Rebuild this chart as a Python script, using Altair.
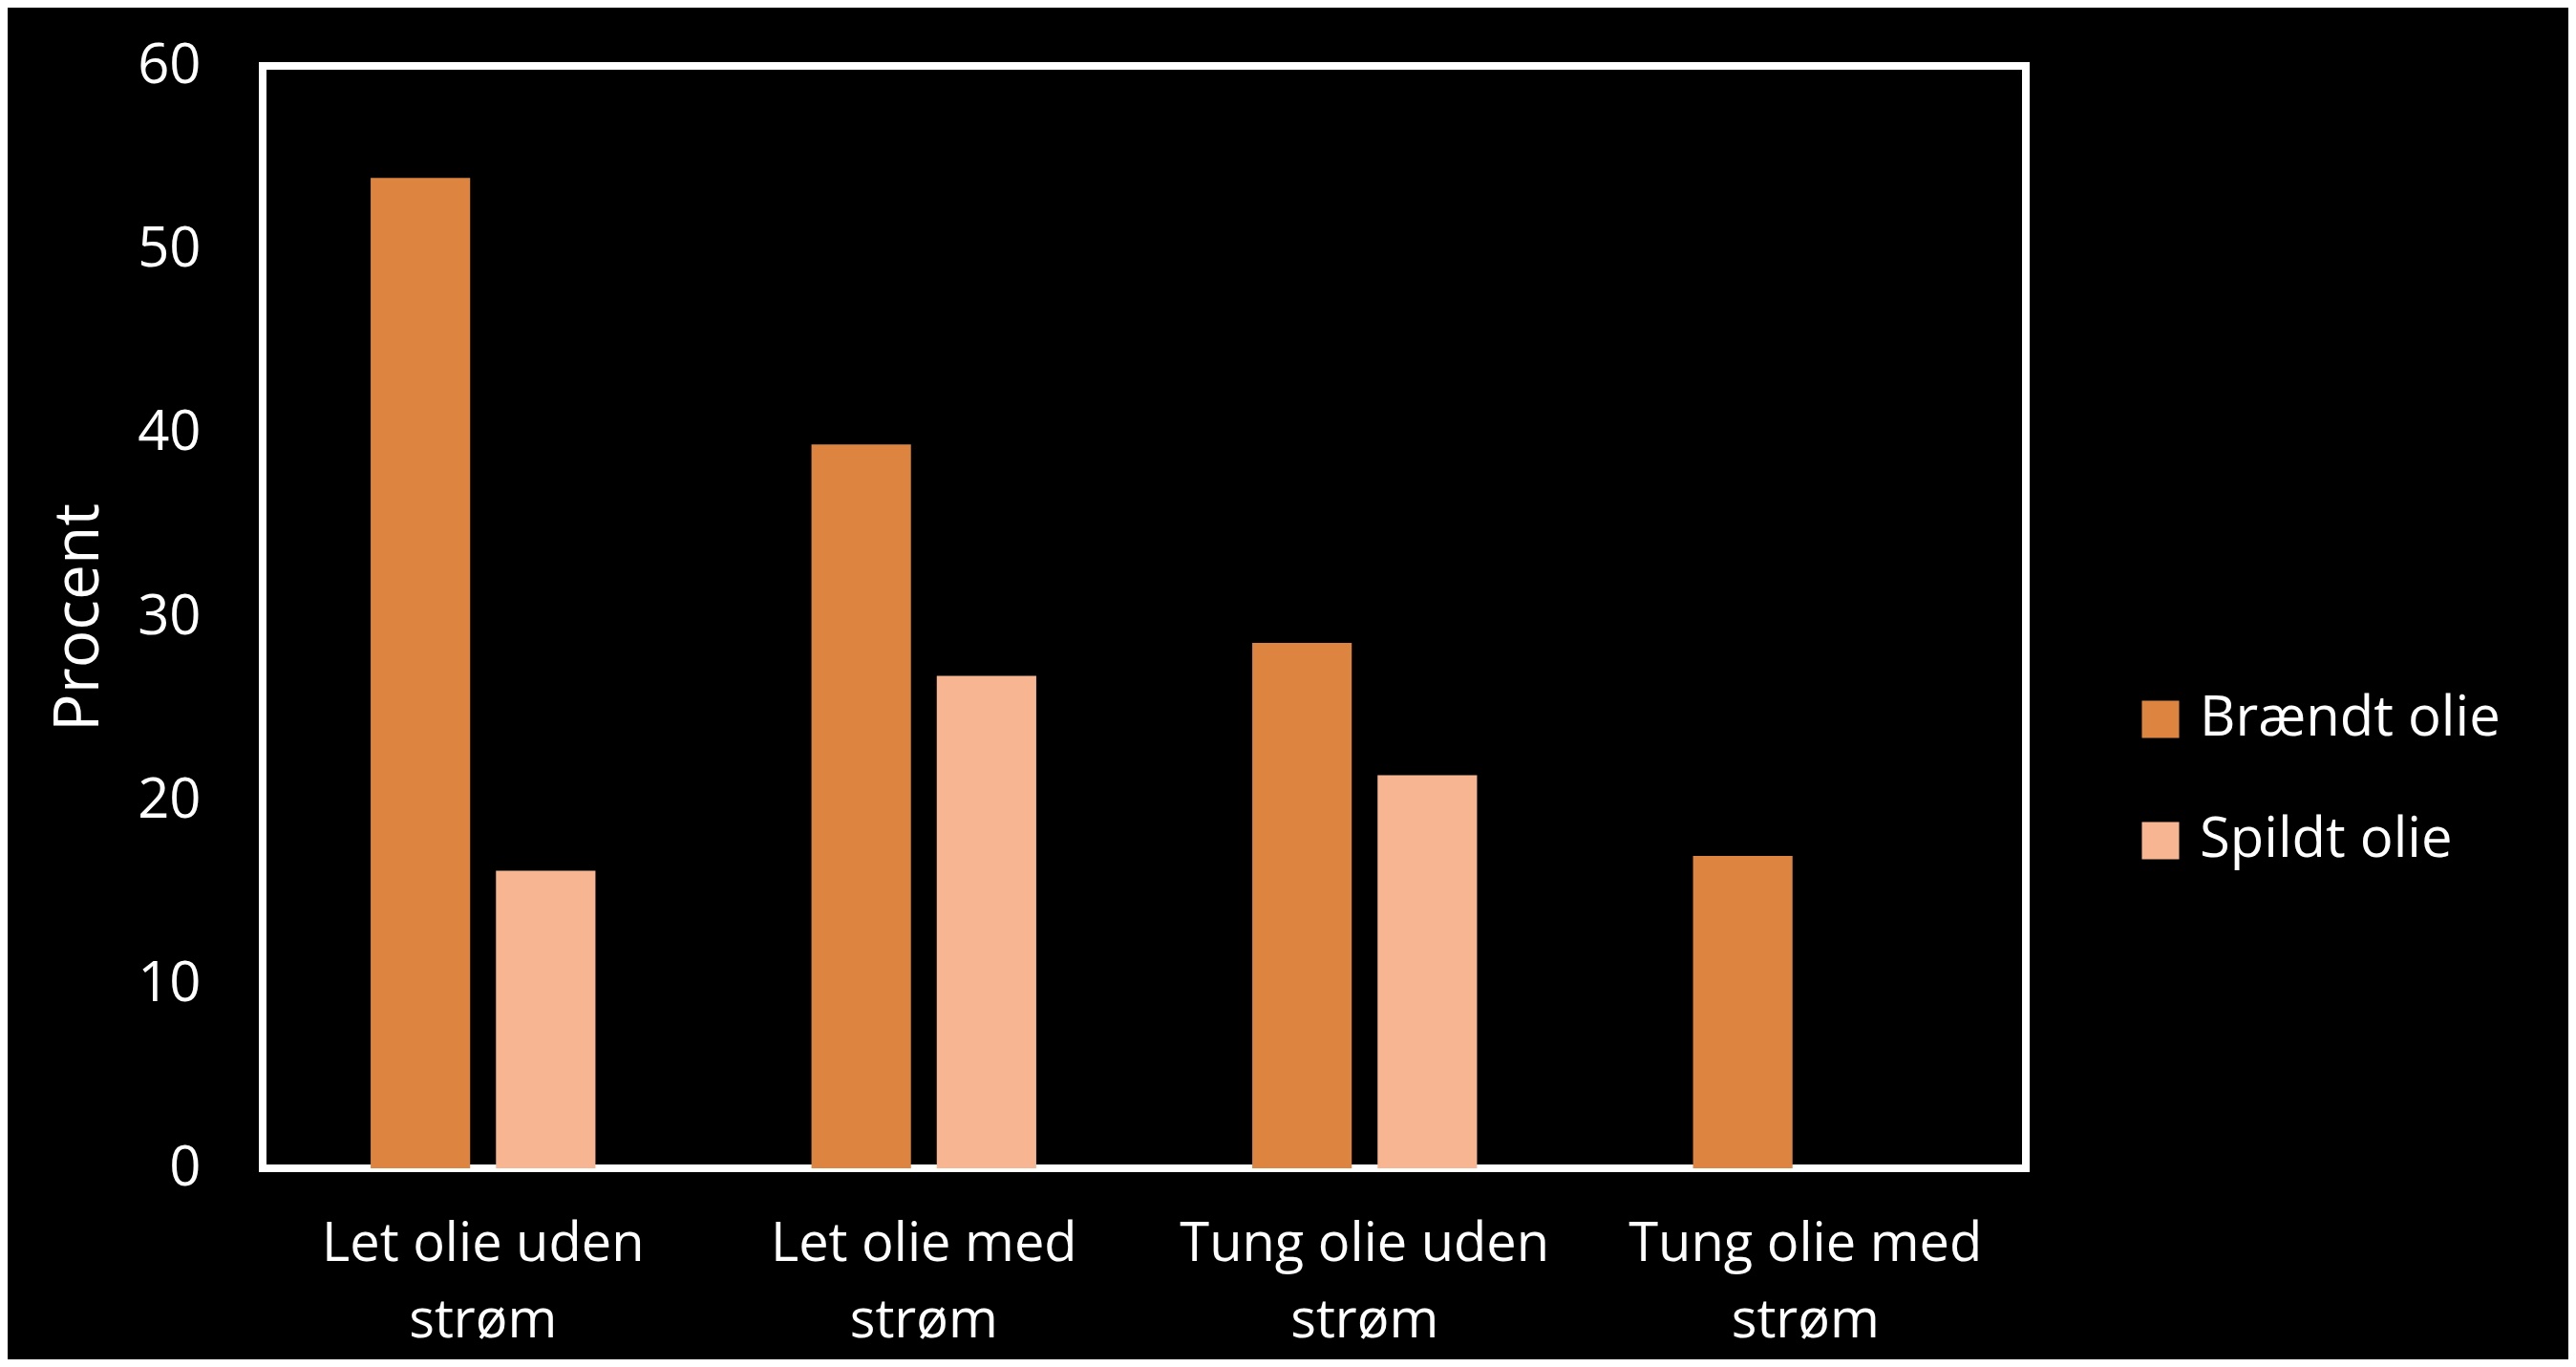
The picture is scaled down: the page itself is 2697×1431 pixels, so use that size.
import altair as alt
import pandas as pd

categories = ["Let olie uden strøm", "Let olie med strøm", "Tung olie uden strøm", "Tung olie med strøm"]
series = ["Brændt olie", "Spildt olie"]
braendt = [53.9, 39.4, 28.6, 17.0]
spildt = [16.2, 26.8, 21.4, 0.0]
colors = ["#DD8441", "#F8B592"]
y_ticks = [0, 10, 20, 30, 40, 50, 60]

rows = []
for c, b, s in zip(categories, braendt, spildt):
    rows.append({"kategori": c, "serie": series[0], "procent": b})
    rows.append({"kategori": c, "serie": series[1], "procent": s})
df = pd.DataFrame(rows)

FONT = "Open Sans"
label_expr = ("[slice(datum.label, 0, lastindexof(datum.label, ' ')), "
              "slice(datum.label, lastindexof(datum.label, ' ') + 1)]")

chart = alt.Chart(df).mark_bar().encode(
    x=alt.X(
        "kategori:N",
        sort=categories,
        scale=alt.Scale(paddingInner=0.49, paddingOuter=0.245),
        axis=alt.Axis(
            title=None, labelAngle=0, labelExpr=label_expr, labelLimit=1000,
            labelFontSize=56, labelColor="white", labelFont=FONT,
            labelPadding=52, labelLineHeight=80, ticks=False, domain=False,
            grid=False, labelBaseline="top",
        ),
    ),
    xOffset=alt.XOffset("serie:N", sort=series,
                        scale=alt.Scale(paddingInner=0.206, paddingOuter=0)),
    y=alt.Y(
        "procent:Q",
        scale=alt.Scale(domain=[0, 60], nice=False),
        axis=alt.Axis(
            values=y_ticks, title="Procent", titleFontSize=66, titleColor="white",
            titleFont=FONT, titleFontWeight="normal", titlePadding=27,
            labelFontSize=58, labelColor="white", labelFont=FONT,
            labelPadding=65, ticks=False, domain=False, grid=False,
        ),
    ),
    color=alt.Color(
        "serie:N", sort=series,
        scale=alt.Scale(domain=series, range=colors),
        legend=alt.Legend(
            title=None, orient="none", legendX=1958, legendY=655,
            symbolType="square", symbolSize=1521, symbolStrokeWidth=0,
            labelFontSize=58, labelColor="white", labelFont=FONT,
            labelOffset=12, rowPadding=69, labelLimit=1000, padding=0,
        ),
    ),
).properties(
    width=1846,
    height=1154,
    autosize=alt.AutoSizeParams(type="none"),
    padding={"left": 267, "top": 61, "right": 568, "bottom": 200},
    background="black",
).configure_view(
    stroke="white", strokeWidth=8, fill="black"
)

chart.save("out.html", embed_options={"renderer": "svg", "actions": False})
